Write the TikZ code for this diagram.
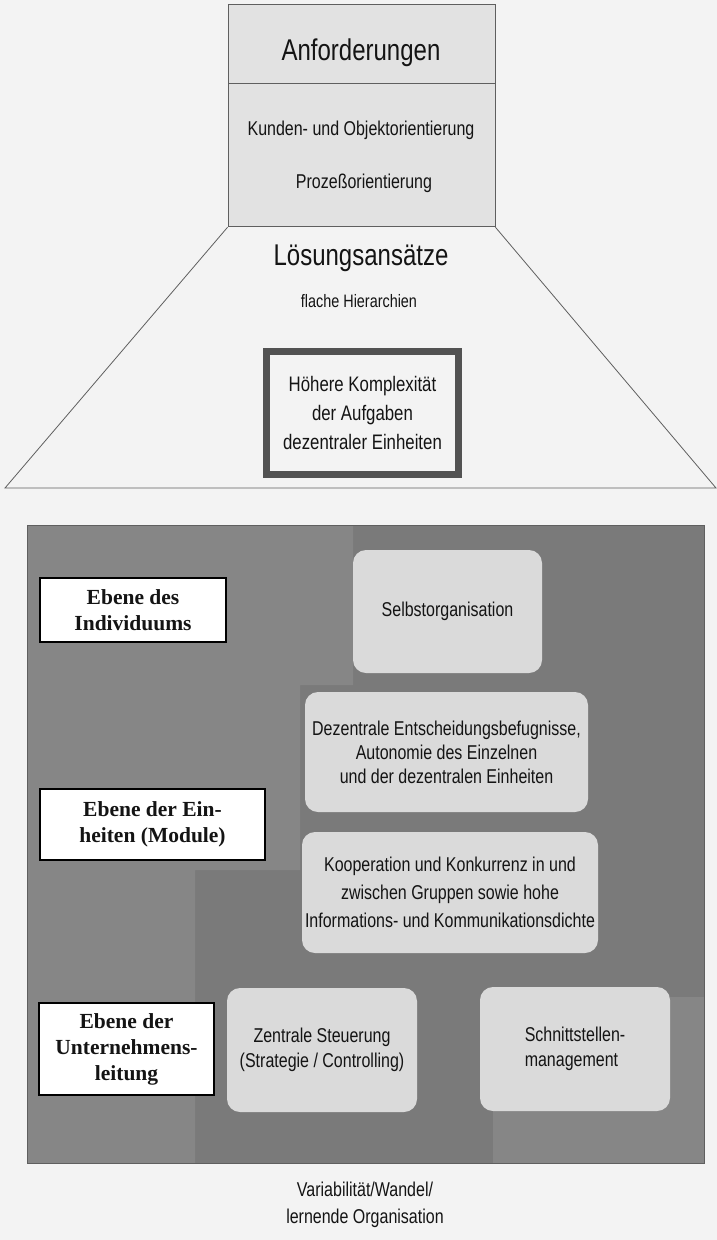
\documentclass[tikz,border=0pt]{standalone}
\usepackage{fontspec}
\setmainfont{Liberation Serif}
\newfontfamily\narrowsans[FakeStretch=0.8]{Liberation Sans}
\usetikzlibrary{positioning,backgrounds}
\definecolor{pagebg}{RGB}{243,243,243}
\definecolor{headfill}{RGB}{226,226,226}
\definecolor{panel}{RGB}{122,122,122}
\definecolor{panellight}{RGB}{134,134,134}
\definecolor{boxfill}{RGB}{218,218,218}
\definecolor{frame}{RGB}{95,95,95}
\definecolor{taskframe}{RGB}{82,82,82}
\definecolor{ink}{RGB}{20,20,20}
\newcommand{\sansat}[2]{\narrowsans\fontsize{#1}{#2}\selectfont}

\begin{document}
\begin{tikzpicture}[x=1pt, y=-1pt,
    every node/.style={text=ink},
    headbox/.style={rectangle, draw=frame, line width=0.8pt, fill=headfill,
                    minimum width=267pt, inner sep=0pt},
    bigtext/.style={font=\sansat{30}{36}, inner sep=0pt, anchor=base},
    smalltext/.style={font=\sansat{20}{24}, inner sep=0pt, anchor=base},
    taskbox/.style={rectangle, draw=taskframe, line width=7pt, fill=pagebg,
                    minimum width=192pt, minimum height=123pt, align=center,
                    font=\sansat{21}{29}, inner sep=0pt},
    levelbox/.style={rectangle, draw=black, line width=1.2pt, fill=white,
                     align=center, inner sep=0pt,
                     font=\fontsize{21.5}{26}\selectfont\bfseries},
    featbox/.style={rectangle, rounded corners=13pt, fill=boxfill, align=center,
                    inner sep=2pt, font=\sansat{20}{25}},
    edge/.style={draw=frame, line width=0.8pt}
]

\useasboundingbox (0,0) rectangle (717,1240);

\node[headbox, minimum height=79pt] (anfhead) at (361.5,43.5) {};
\node[headbox, minimum height=143pt, below=0pt of anfhead] (anfbody) {};

\node[bigtext] (anftitle) at (361,60) {Anforderungen};
\node[smalltext] (kunden) at (361,135) {Kunden- und Objektorientierung};
\node[smalltext] (prozess) at (364,188) {Prozeßorientierung};

\coordinate (trapl) at (5,488);
\coordinate (trapr) at (716,488);
\draw[edge] (anfbody.south west) -- (trapl) -- (trapr) -- (anfbody.south east);

\node[bigtext] (loesung) at (361,265) {Lösungsansätze};
\node[smalltext, font=\sansat{18}{22}] (flach) at (359,307) {flache Hierarchien};

\node[taskbox] (komplex) at (362.5,413) {Höhere Komplexität\\der Aufgaben\\dezentraler Einheiten};

\node[levelbox, minimum width=186pt, minimum height=64pt] (indiv) at (133,610) {Ebene des\\Individuums};
\node[levelbox, minimum width=225pt, minimum height=71pt] (einh) at (152.5,824.5) {Ebene der Ein-\\heiten (Module)};
\node[levelbox, minimum width=175pt, minimum height=92pt] (leitung) at (126.5,1049) {Ebene der\\Unternehmens-\\leitung};

\node[featbox, minimum width=189pt, minimum height=123pt] (selbst) at (447.5,611.5) {Selbstorganisation};
\node[featbox, minimum width=283pt, minimum height=120pt, font=\sansat{20}{24}] (dezent) at (446.5,752) {Dezentrale Entscheidungsbefugnisse,\\Autonomie des Einzelnen\\und der dezentralen Einheiten};
\node[featbox, minimum width=296pt, minimum height=121pt, font=\sansat{20}{28}] (koop) at (450,892.5) {Kooperation und Konkurrenz in und\\zwischen Gruppen sowie hohe\\Informations- und Kommunikationsdichte};
\node[featbox, minimum width=190pt, minimum height=124pt] (zentral) at (322,1050) {Zentrale Steuerung\\(Strategie / Controlling)};
\node[featbox, minimum width=190pt, minimum height=124pt, align=left] (schnitt) at (575,1049) {Schnittstellen-\\management};

\node[smalltext] (wandel) at (365,1196) {Variabilität/Wandel/};
\node[smalltext] (lernend) at (365,1223) {lernende Organisation};

\begin{scope}[on background layer]
\fill[pagebg] (0,0) rectangle (717,1240);
\fill[panel] (27,525) rectangle (704,1163);
\fill[panellight] (27,525) -- (353,525) -- (353,685) -- (300,685) -- (300,870) -- (195,870) -- (195,1163) -- (27,1163) -- cycle;
\fill[panellight] (493,997) rectangle (704,1163);
\draw[draw=frame, line width=1pt] (27,525) rectangle (704,1163);
\end{scope}

\end{tikzpicture}
\end{document}
